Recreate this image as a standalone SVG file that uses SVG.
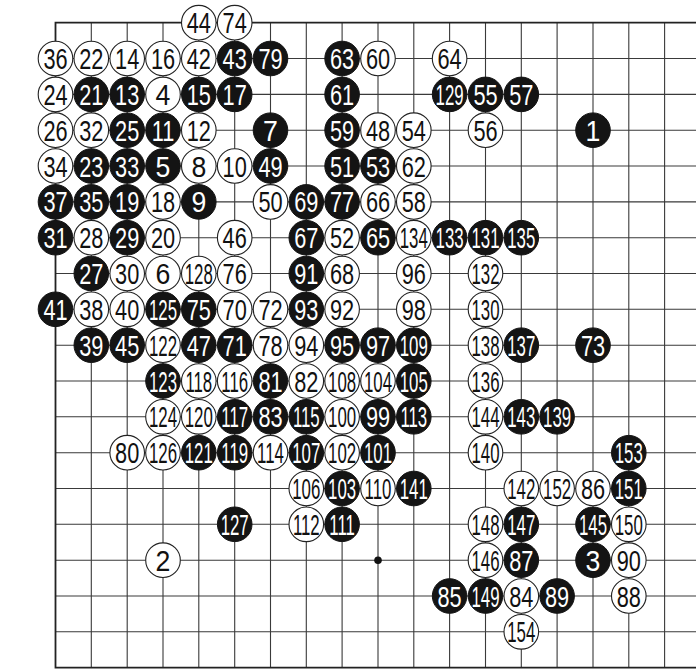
<svg xmlns="http://www.w3.org/2000/svg" width="696" height="669" viewBox="0 0 696 669">
<style>
.g{fill:none;stroke:#3a3a3a;stroke-width:1.1}
.e{fill:none;stroke:#222;stroke-width:1.8}
.w circle{fill:#fff;stroke:#222;stroke-width:1.1}
.b circle{fill:#141414;stroke:#141414;stroke-width:1}
text{font-family:"Liberation Sans",Arial,sans-serif;font-size:29px;text-anchor:middle}
.w text{fill:#111}
.b text{fill:#fff}
.t1{transform:scaleX(.92)}
.t2{transform:scaleX(.75)}
.t3{transform:scaleX(.58)}
</style>
<rect width="696" height="669" fill="#fff"/>
<g id="connectors">
<path class="g" d="M55.5 58.5H696M55.5 94.4H696M55.5 130.2H696M55.5 166H696M55.5 201.9H696M55.5 237.7H696M55.5 273.5H696M55.5 309.3H696M55.5 345.2H696M55.5 381H696M55.5 416.8H696M55.5 452.7H696M55.5 488.5H696M55.5 524.3H696M55.5 560.2H696M55.5 596H696M55.5 631.8H696M91.3 22.7V667.6M127.2 22.7V667.6M163 22.7V667.6M198.8 22.7V667.6M234.7 22.7V667.6M270.5 22.7V667.6M306.3 22.7V667.6M342.1 22.7V667.6M378 22.7V667.6M413.8 22.7V667.6M449.6 22.7V667.6M485.5 22.7V667.6M521.3 22.7V667.6M557.1 22.7V667.6M593 22.7V667.6M628.8 22.7V667.6M664.6 22.7V667.6"/>
<path class="e" d="M696 22.7H55.5V667.6H696"/>
<circle cx="378" cy="560.2" r="3.8" fill="#111"/>
</g>
<g id="s44" class="w" transform="translate(198.8,22.7)"><circle r="17.3"/><text y="10.5" class="t2">44</text></g>
<g id="s74" class="w" transform="translate(234.7,22.7)"><circle r="17.3"/><text y="10.5" class="t2">74</text></g>
<g id="s36" class="w" transform="translate(55.5,58.5)"><circle r="17.3"/><text y="10.5" class="t2">36</text></g>
<g id="s22" class="w" transform="translate(91.3,58.5)"><circle r="17.3"/><text y="10.5" class="t2">22</text></g>
<g id="s14" class="w" transform="translate(127.2,58.5)"><circle r="17.3"/><text y="10.5" class="t2">14</text></g>
<g id="s16" class="w" transform="translate(163,58.5)"><circle r="17.3"/><text y="10.5" class="t2">16</text></g>
<g id="s42" class="w" transform="translate(198.8,58.5)"><circle r="17.3"/><text y="10.5" class="t2">42</text></g>
<g id="s43" class="b" transform="translate(234.7,58.5)"><circle r="17.3"/><text y="10.5" class="t2">43</text></g>
<g id="s79" class="b" transform="translate(270.5,58.5)"><circle r="17.3"/><text y="10.5" class="t2">79</text></g>
<g id="s63" class="b" transform="translate(342.1,58.5)"><circle r="17.3"/><text y="10.5" class="t2">63</text></g>
<g id="s60" class="w" transform="translate(378,58.5)"><circle r="17.3"/><text y="10.5" class="t2">60</text></g>
<g id="s64" class="w" transform="translate(449.6,58.5)"><circle r="17.3"/><text y="10.5" class="t2">64</text></g>
<g id="s24" class="w" transform="translate(55.5,94.4)"><circle r="17.3"/><text y="10.5" class="t2">24</text></g>
<g id="s21" class="b" transform="translate(91.3,94.4)"><circle r="17.3"/><text y="10.5" class="t2">21</text></g>
<g id="s13" class="b" transform="translate(127.2,94.4)"><circle r="17.3"/><text y="10.5" class="t2">13</text></g>
<g id="s4" class="w" transform="translate(163,94.4)"><circle r="17.3"/><text y="10.5" class="t1">4</text></g>
<g id="s15" class="b" transform="translate(198.8,94.4)"><circle r="17.3"/><text y="10.5" class="t2">15</text></g>
<g id="s17" class="b" transform="translate(234.7,94.4)"><circle r="17.3"/><text y="10.5" class="t2">17</text></g>
<g id="s61" class="b" transform="translate(342.1,94.4)"><circle r="17.3"/><text y="10.5" class="t2">61</text></g>
<g id="s129" class="b" transform="translate(449.6,94.4)"><circle r="17.3"/><text y="10.5" class="t3">129</text></g>
<g id="s55" class="b" transform="translate(485.5,94.4)"><circle r="17.3"/><text y="10.5" class="t2">55</text></g>
<g id="s57" class="b" transform="translate(521.3,94.4)"><circle r="17.3"/><text y="10.5" class="t2">57</text></g>
<g id="s26" class="w" transform="translate(55.5,130.2)"><circle r="17.3"/><text y="10.5" class="t2">26</text></g>
<g id="s32" class="w" transform="translate(91.3,130.2)"><circle r="17.3"/><text y="10.5" class="t2">32</text></g>
<g id="s25" class="b" transform="translate(127.2,130.2)"><circle r="17.3"/><text y="10.5" class="t2">25</text></g>
<g id="s11" class="b" transform="translate(163,130.2)"><circle r="17.3"/><text y="10.5" class="t2">11</text></g>
<g id="s12" class="w" transform="translate(198.8,130.2)"><circle r="17.3"/><text y="10.5" class="t2">12</text></g>
<g id="s7" class="b" transform="translate(270.5,130.2)"><circle r="17.3"/><text y="10.5" class="t1">7</text></g>
<g id="s59" class="b" transform="translate(342.1,130.2)"><circle r="17.3"/><text y="10.5" class="t2">59</text></g>
<g id="s48" class="w" transform="translate(378,130.2)"><circle r="17.3"/><text y="10.5" class="t2">48</text></g>
<g id="s54" class="w" transform="translate(413.8,130.2)"><circle r="17.3"/><text y="10.5" class="t2">54</text></g>
<g id="s56" class="w" transform="translate(485.5,130.2)"><circle r="17.3"/><text y="10.5" class="t2">56</text></g>
<g id="s1" class="b" transform="translate(593,130.2)"><circle r="17.3"/><text y="10.5" class="t1">1</text></g>
<g id="s34" class="w" transform="translate(55.5,166)"><circle r="17.3"/><text y="10.5" class="t2">34</text></g>
<g id="s23" class="b" transform="translate(91.3,166)"><circle r="17.3"/><text y="10.5" class="t2">23</text></g>
<g id="s33" class="b" transform="translate(127.2,166)"><circle r="17.3"/><text y="10.5" class="t2">33</text></g>
<g id="s5" class="b" transform="translate(163,166)"><circle r="17.3"/><text y="10.5" class="t1">5</text></g>
<g id="s8" class="w" transform="translate(198.8,166)"><circle r="17.3"/><text y="10.5" class="t1">8</text></g>
<g id="s10" class="w" transform="translate(234.7,166)"><circle r="17.3"/><text y="10.5" class="t2">10</text></g>
<g id="s49" class="b" transform="translate(270.5,166)"><circle r="17.3"/><text y="10.5" class="t2">49</text></g>
<g id="s51" class="b" transform="translate(342.1,166)"><circle r="17.3"/><text y="10.5" class="t2">51</text></g>
<g id="s53" class="b" transform="translate(378,166)"><circle r="17.3"/><text y="10.5" class="t2">53</text></g>
<g id="s62" class="w" transform="translate(413.8,166)"><circle r="17.3"/><text y="10.5" class="t2">62</text></g>
<g id="s37" class="b" transform="translate(55.5,201.9)"><circle r="17.3"/><text y="10.5" class="t2">37</text></g>
<g id="s35" class="b" transform="translate(91.3,201.9)"><circle r="17.3"/><text y="10.5" class="t2">35</text></g>
<g id="s19" class="b" transform="translate(127.2,201.9)"><circle r="17.3"/><text y="10.5" class="t2">19</text></g>
<g id="s18" class="w" transform="translate(163,201.9)"><circle r="17.3"/><text y="10.5" class="t2">18</text></g>
<g id="s9" class="b" transform="translate(198.8,201.9)"><circle r="17.3"/><text y="10.5" class="t1">9</text></g>
<g id="s50" class="w" transform="translate(270.5,201.9)"><circle r="17.3"/><text y="10.5" class="t2">50</text></g>
<g id="s69" class="b" transform="translate(306.3,201.9)"><circle r="17.3"/><text y="10.5" class="t2">69</text></g>
<g id="s77" class="b" transform="translate(342.1,201.9)"><circle r="17.3"/><text y="10.5" class="t2">77</text></g>
<g id="s66" class="w" transform="translate(378,201.9)"><circle r="17.3"/><text y="10.5" class="t2">66</text></g>
<g id="s58" class="w" transform="translate(413.8,201.9)"><circle r="17.3"/><text y="10.5" class="t2">58</text></g>
<g id="s31" class="b" transform="translate(55.5,237.7)"><circle r="17.3"/><text y="10.5" class="t2">31</text></g>
<g id="s28" class="w" transform="translate(91.3,237.7)"><circle r="17.3"/><text y="10.5" class="t2">28</text></g>
<g id="s29" class="b" transform="translate(127.2,237.7)"><circle r="17.3"/><text y="10.5" class="t2">29</text></g>
<g id="s20" class="w" transform="translate(163,237.7)"><circle r="17.3"/><text y="10.5" class="t2">20</text></g>
<g id="s46" class="w" transform="translate(234.7,237.7)"><circle r="17.3"/><text y="10.5" class="t2">46</text></g>
<g id="s67" class="b" transform="translate(306.3,237.7)"><circle r="17.3"/><text y="10.5" class="t2">67</text></g>
<g id="s52" class="w" transform="translate(342.1,237.7)"><circle r="17.3"/><text y="10.5" class="t2">52</text></g>
<g id="s65" class="b" transform="translate(378,237.7)"><circle r="17.3"/><text y="10.5" class="t2">65</text></g>
<g id="s134" class="w" transform="translate(413.8,237.7)"><circle r="17.3"/><text y="10.5" class="t3">134</text></g>
<g id="s133" class="b" transform="translate(449.6,237.7)"><circle r="17.3"/><text y="10.5" class="t3">133</text></g>
<g id="s131" class="b" transform="translate(485.5,237.7)"><circle r="17.3"/><text y="10.5" class="t3">131</text></g>
<g id="s135" class="b" transform="translate(521.3,237.7)"><circle r="17.3"/><text y="10.5" class="t3">135</text></g>
<g id="s27" class="b" transform="translate(91.3,273.5)"><circle r="17.3"/><text y="10.5" class="t2">27</text></g>
<g id="s30" class="w" transform="translate(127.2,273.5)"><circle r="17.3"/><text y="10.5" class="t2">30</text></g>
<g id="s6" class="w" transform="translate(163,273.5)"><circle r="17.3"/><text y="10.5" class="t1">6</text></g>
<g id="s128" class="w" transform="translate(198.8,273.5)"><circle r="17.3"/><text y="10.5" class="t3">128</text></g>
<g id="s76" class="w" transform="translate(234.7,273.5)"><circle r="17.3"/><text y="10.5" class="t2">76</text></g>
<g id="s91" class="b" transform="translate(306.3,273.5)"><circle r="17.3"/><text y="10.5" class="t2">91</text></g>
<g id="s68" class="w" transform="translate(342.1,273.5)"><circle r="17.3"/><text y="10.5" class="t2">68</text></g>
<g id="s96" class="w" transform="translate(413.8,273.5)"><circle r="17.3"/><text y="10.5" class="t2">96</text></g>
<g id="s132" class="w" transform="translate(485.5,273.5)"><circle r="17.3"/><text y="10.5" class="t3">132</text></g>
<g id="s41" class="b" transform="translate(55.5,309.3)"><circle r="17.3"/><text y="10.5" class="t2">41</text></g>
<g id="s38" class="w" transform="translate(91.3,309.3)"><circle r="17.3"/><text y="10.5" class="t2">38</text></g>
<g id="s40" class="w" transform="translate(127.2,309.3)"><circle r="17.3"/><text y="10.5" class="t2">40</text></g>
<g id="s125" class="b" transform="translate(163,309.3)"><circle r="17.3"/><text y="10.5" class="t3">125</text></g>
<g id="s75" class="b" transform="translate(198.8,309.3)"><circle r="17.3"/><text y="10.5" class="t2">75</text></g>
<g id="s70" class="w" transform="translate(234.7,309.3)"><circle r="17.3"/><text y="10.5" class="t2">70</text></g>
<g id="s72" class="w" transform="translate(270.5,309.3)"><circle r="17.3"/><text y="10.5" class="t2">72</text></g>
<g id="s93" class="b" transform="translate(306.3,309.3)"><circle r="17.3"/><text y="10.5" class="t2">93</text></g>
<g id="s92" class="w" transform="translate(342.1,309.3)"><circle r="17.3"/><text y="10.5" class="t2">92</text></g>
<g id="s98" class="w" transform="translate(413.8,309.3)"><circle r="17.3"/><text y="10.5" class="t2">98</text></g>
<g id="s130" class="w" transform="translate(485.5,309.3)"><circle r="17.3"/><text y="10.5" class="t3">130</text></g>
<g id="s39" class="b" transform="translate(91.3,345.2)"><circle r="17.3"/><text y="10.5" class="t2">39</text></g>
<g id="s45" class="b" transform="translate(127.2,345.2)"><circle r="17.3"/><text y="10.5" class="t2">45</text></g>
<g id="s122" class="w" transform="translate(163,345.2)"><circle r="17.3"/><text y="10.5" class="t3">122</text></g>
<g id="s47" class="b" transform="translate(198.8,345.2)"><circle r="17.3"/><text y="10.5" class="t2">47</text></g>
<g id="s71" class="b" transform="translate(234.7,345.2)"><circle r="17.3"/><text y="10.5" class="t2">71</text></g>
<g id="s78" class="w" transform="translate(270.5,345.2)"><circle r="17.3"/><text y="10.5" class="t2">78</text></g>
<g id="s94" class="w" transform="translate(306.3,345.2)"><circle r="17.3"/><text y="10.5" class="t2">94</text></g>
<g id="s95" class="b" transform="translate(342.1,345.2)"><circle r="17.3"/><text y="10.5" class="t2">95</text></g>
<g id="s97" class="b" transform="translate(378,345.2)"><circle r="17.3"/><text y="10.5" class="t2">97</text></g>
<g id="s109" class="b" transform="translate(413.8,345.2)"><circle r="17.3"/><text y="10.5" class="t3">109</text></g>
<g id="s138" class="w" transform="translate(485.5,345.2)"><circle r="17.3"/><text y="10.5" class="t3">138</text></g>
<g id="s137" class="b" transform="translate(521.3,345.2)"><circle r="17.3"/><text y="10.5" class="t3">137</text></g>
<g id="s73" class="b" transform="translate(593,345.2)"><circle r="17.3"/><text y="10.5" class="t2">73</text></g>
<g id="s123" class="b" transform="translate(163,381)"><circle r="17.3"/><text y="10.5" class="t3">123</text></g>
<g id="s118" class="w" transform="translate(198.8,381)"><circle r="17.3"/><text y="10.5" class="t3">118</text></g>
<g id="s116" class="w" transform="translate(234.7,381)"><circle r="17.3"/><text y="10.5" class="t3">116</text></g>
<g id="s81" class="b" transform="translate(270.5,381)"><circle r="17.3"/><text y="10.5" class="t2">81</text></g>
<g id="s82" class="w" transform="translate(306.3,381)"><circle r="17.3"/><text y="10.5" class="t2">82</text></g>
<g id="s108" class="w" transform="translate(342.1,381)"><circle r="17.3"/><text y="10.5" class="t3">108</text></g>
<g id="s104" class="w" transform="translate(378,381)"><circle r="17.3"/><text y="10.5" class="t3">104</text></g>
<g id="s105" class="b" transform="translate(413.8,381)"><circle r="17.3"/><text y="10.5" class="t3">105</text></g>
<g id="s136" class="w" transform="translate(485.5,381)"><circle r="17.3"/><text y="10.5" class="t3">136</text></g>
<g id="s124" class="w" transform="translate(163,416.8)"><circle r="17.3"/><text y="10.5" class="t3">124</text></g>
<g id="s120" class="w" transform="translate(198.8,416.8)"><circle r="17.3"/><text y="10.5" class="t3">120</text></g>
<g id="s117" class="b" transform="translate(234.7,416.8)"><circle r="17.3"/><text y="10.5" class="t3">117</text></g>
<g id="s83" class="b" transform="translate(270.5,416.8)"><circle r="17.3"/><text y="10.5" class="t2">83</text></g>
<g id="s115" class="b" transform="translate(306.3,416.8)"><circle r="17.3"/><text y="10.5" class="t3">115</text></g>
<g id="s100" class="w" transform="translate(342.1,416.8)"><circle r="17.3"/><text y="10.5" class="t3">100</text></g>
<g id="s99" class="b" transform="translate(378,416.8)"><circle r="17.3"/><text y="10.5" class="t2">99</text></g>
<g id="s113" class="b" transform="translate(413.8,416.8)"><circle r="17.3"/><text y="10.5" class="t3">113</text></g>
<g id="s144" class="w" transform="translate(485.5,416.8)"><circle r="17.3"/><text y="10.5" class="t3">144</text></g>
<g id="s143" class="b" transform="translate(521.3,416.8)"><circle r="17.3"/><text y="10.5" class="t3">143</text></g>
<g id="s139" class="b" transform="translate(557.1,416.8)"><circle r="17.3"/><text y="10.5" class="t3">139</text></g>
<g id="s80" class="w" transform="translate(127.2,452.7)"><circle r="17.3"/><text y="10.5" class="t2">80</text></g>
<g id="s126" class="w" transform="translate(163,452.7)"><circle r="17.3"/><text y="10.5" class="t3">126</text></g>
<g id="s121" class="b" transform="translate(198.8,452.7)"><circle r="17.3"/><text y="10.5" class="t3">121</text></g>
<g id="s119" class="b" transform="translate(234.7,452.7)"><circle r="17.3"/><text y="10.5" class="t3">119</text></g>
<g id="s114" class="w" transform="translate(270.5,452.7)"><circle r="17.3"/><text y="10.5" class="t3">114</text></g>
<g id="s107" class="b" transform="translate(306.3,452.7)"><circle r="17.3"/><text y="10.5" class="t3">107</text></g>
<g id="s102" class="w" transform="translate(342.1,452.7)"><circle r="17.3"/><text y="10.5" class="t3">102</text></g>
<g id="s101" class="b" transform="translate(378,452.7)"><circle r="17.3"/><text y="10.5" class="t3">101</text></g>
<g id="s140" class="w" transform="translate(485.5,452.7)"><circle r="17.3"/><text y="10.5" class="t3">140</text></g>
<g id="s153" class="b" transform="translate(628.8,452.7)"><circle r="17.3"/><text y="10.5" class="t3">153</text></g>
<g id="s106" class="w" transform="translate(306.3,488.5)"><circle r="17.3"/><text y="10.5" class="t3">106</text></g>
<g id="s103" class="b" transform="translate(342.1,488.5)"><circle r="17.3"/><text y="10.5" class="t3">103</text></g>
<g id="s110" class="w" transform="translate(378,488.5)"><circle r="17.3"/><text y="10.5" class="t3">110</text></g>
<g id="s141" class="b" transform="translate(413.8,488.5)"><circle r="17.3"/><text y="10.5" class="t3">141</text></g>
<g id="s142" class="w" transform="translate(521.3,488.5)"><circle r="17.3"/><text y="10.5" class="t3">142</text></g>
<g id="s152" class="w" transform="translate(557.1,488.5)"><circle r="17.3"/><text y="10.5" class="t3">152</text></g>
<g id="s86" class="w" transform="translate(593,488.5)"><circle r="17.3"/><text y="10.5" class="t2">86</text></g>
<g id="s151" class="b" transform="translate(628.8,488.5)"><circle r="17.3"/><text y="10.5" class="t3">151</text></g>
<g id="s127" class="b" transform="translate(234.7,524.3)"><circle r="17.3"/><text y="10.5" class="t3">127</text></g>
<g id="s112" class="w" transform="translate(306.3,524.3)"><circle r="17.3"/><text y="10.5" class="t3">112</text></g>
<g id="s111" class="b" transform="translate(342.1,524.3)"><circle r="17.3"/><text y="10.5" class="t3">111</text></g>
<g id="s148" class="w" transform="translate(485.5,524.3)"><circle r="17.3"/><text y="10.5" class="t3">148</text></g>
<g id="s147" class="b" transform="translate(521.3,524.3)"><circle r="17.3"/><text y="10.5" class="t3">147</text></g>
<g id="s145" class="b" transform="translate(593,524.3)"><circle r="17.3"/><text y="10.5" class="t3">145</text></g>
<g id="s150" class="w" transform="translate(628.8,524.3)"><circle r="17.3"/><text y="10.5" class="t3">150</text></g>
<g id="s2" class="w" transform="translate(163,560.2)"><circle r="17.3"/><text y="10.5" class="t1">2</text></g>
<g id="s146" class="w" transform="translate(485.5,560.2)"><circle r="17.3"/><text y="10.5" class="t3">146</text></g>
<g id="s87" class="b" transform="translate(521.3,560.2)"><circle r="17.3"/><text y="10.5" class="t2">87</text></g>
<g id="s3" class="b" transform="translate(593,560.2)"><circle r="17.3"/><text y="10.5" class="t1">3</text></g>
<g id="s90" class="w" transform="translate(628.8,560.2)"><circle r="17.3"/><text y="10.5" class="t2">90</text></g>
<g id="s85" class="b" transform="translate(449.6,596)"><circle r="17.3"/><text y="10.5" class="t2">85</text></g>
<g id="s149" class="b" transform="translate(485.5,596)"><circle r="17.3"/><text y="10.5" class="t3">149</text></g>
<g id="s84" class="w" transform="translate(521.3,596)"><circle r="17.3"/><text y="10.5" class="t2">84</text></g>
<g id="s89" class="b" transform="translate(557.1,596)"><circle r="17.3"/><text y="10.5" class="t2">89</text></g>
<g id="s88" class="w" transform="translate(628.8,596)"><circle r="17.3"/><text y="10.5" class="t2">88</text></g>
<g id="s154" class="w" transform="translate(521.3,631.8)"><circle r="17.3"/><text y="10.5" class="t3">154</text></g>
</svg>
